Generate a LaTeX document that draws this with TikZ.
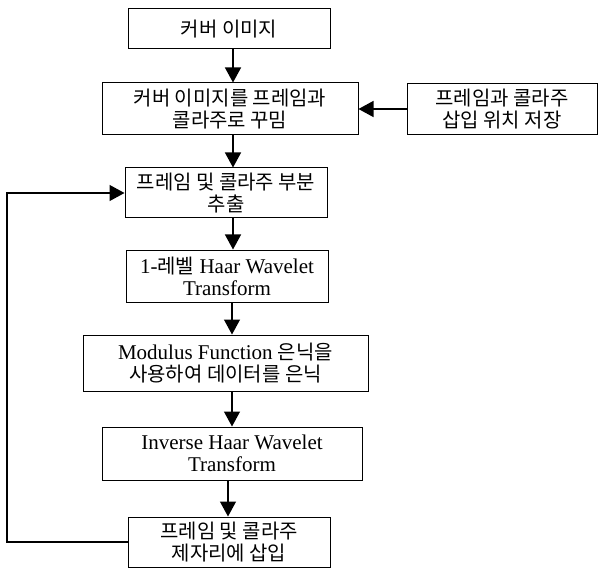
\documentclass[tikz,border=0pt]{standalone}
\usepackage{fontspec}
\setmainfont{Liberation Serif}
\newfontfamily\kr[Scale=0.95]{Noto Sans CJK KR}
\usetikzlibrary{arrows.meta}
\begin{document}
\begin{tikzpicture}[x=1pt,y=-1pt,
  box/.style={draw, line width=1pt, inner sep=0pt, align=center,
    font=\fontsize{21}{22}\selectfont},
  arr/.style={line width=1.3pt, -{Triangle[length=15pt,width=16pt]}}]
\useasboundingbox (0,0) rectangle (607,569);
\node[box, minimum width=202pt, minimum height=40pt] (b1) at (229,29) {{\kr 커버 이미지}};
\node[box, minimum width=256pt, minimum height=52pt] (b2) at (230,109) {{\kr 커버 이미지를 프레임과}\\{\kr 콜라주로 꾸밈}};
\node[box, minimum width=190pt, minimum height=51pt] (bs) at (502,109) {{\kr 프레임과 콜라주}\\{\kr 삽입 위치 저장}};
\node[box, minimum width=202pt, minimum height=50pt] (b3) at (226,193) {{\kr 프레임 및 콜라주 부분}\\{\kr 추출}};
\node[box, minimum width=202pt, minimum height=52pt] (b4) at (227,276) {1-{\kr 레벨} Haar Wavelet\\Transform};
\node[box, minimum width=285pt, minimum height=56pt] (b5) at (225.5,363) {Modulus Function {\kr 은닉을}\\{\kr 사용하여 데이터를 은닉}};
\node[box, minimum width=260pt, minimum height=53pt] (b6) at (232,453.5) {Inverse Haar Wavelet\\Transform};
\node[box, minimum width=202pt, minimum height=50pt] (b7) at (229,542) {{\kr 프레임 및 콜라주}\\{\kr 제자리에 삽입}};
\coordinate (c) at (7,360);
\draw[arr] (b1.south -| 233,0) -- (b2.north -| 233,0);
\draw[arr] (b2.south -| 233,0) -- (b3.north -| 233,0);
\draw[arr] (b3.south -| 233,0) -- (b4.north -| 233,0);
\draw[arr] (b4.south -| 232,0) -- (b5.north -| 232,0);
\draw[arr] (b5.south -| 232,0) -- (b6.north -| 232,0);
\draw[arr] (b6.south -| 228,0) -- (b7.north -| 228,0);
\draw[arr] (bs.west) -- (b2.east);
\draw[arr] (b7.west) -| (c) |- (b3.west);
\end{tikzpicture}
\end{document}
